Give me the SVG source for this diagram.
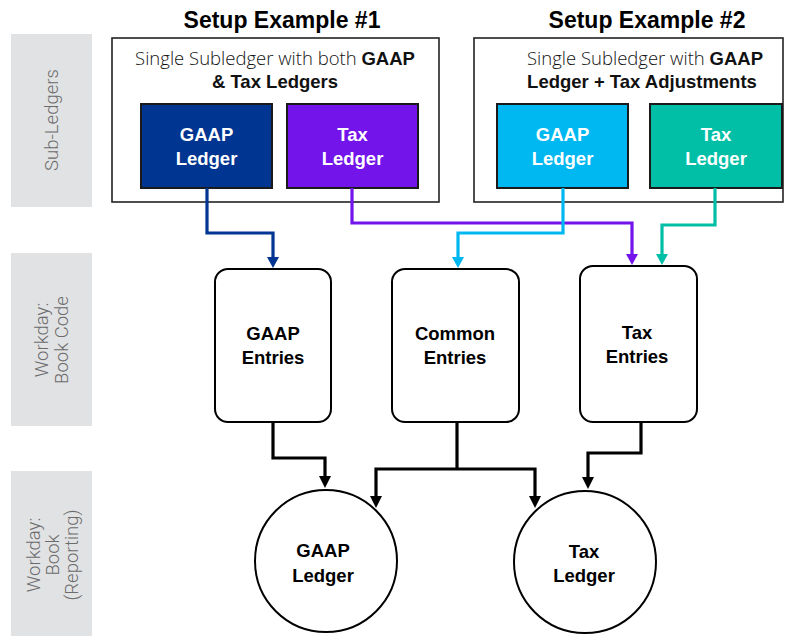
<svg xmlns="http://www.w3.org/2000/svg" width="789" height="636" viewBox="0 0 789 636">
<style>
.side{fill:#e1e2e4}
.sidet{font-family:Roboto,"Liberation Sans",sans-serif;font-weight:300;font-size:18.5px;fill:#6b6b6b;text-anchor:middle}
.title{font-family:"Liberation Sans",Arial,sans-serif;font-weight:bold;font-size:23px;fill:#000;text-anchor:middle}
.desc{font-family:"Liberation Sans",Arial,sans-serif;font-size:18.5px;fill:#111;text-anchor:middle}
.lt{font-family:"Open Sans",Roboto,sans-serif;font-weight:300}
.b{font-weight:bold}
.frame{fill:#fff;stroke:#222;stroke-width:1.6}
.led{stroke:#1a1a1a;stroke-width:2}
.wt{font-family:"Liberation Sans",Arial,sans-serif;font-weight:bold;font-size:18.5px;fill:#fff;text-anchor:middle}
.bt{font-family:"Liberation Sans",Arial,sans-serif;font-weight:bold;font-size:18.5px;fill:#000;text-anchor:middle}
.ent{fill:#fff;stroke:#000;stroke-width:2}
.con{fill:none;stroke-width:3.2;stroke-linejoin:miter}
</style>
<g id="lanes">
<rect class="side" x="11" y="34" width="81" height="173"/>
<text class="sidet" transform="translate(58,120) rotate(-90)">Sub-Ledgers</text>
<rect class="side" x="11" y="253" width="81" height="173"/>
<text class="sidet" transform="translate(48,340) rotate(-90)">Workday:</text>
<text class="sidet" transform="translate(68,340) rotate(-90)">Book Code</text>
<rect class="side" x="11" y="471" width="81" height="165"/>
<text class="sidet" transform="translate(40,555) rotate(-90)">Workday:</text>
<text class="sidet" transform="translate(59,555) rotate(-90)">Book</text>
<text class="sidet" transform="translate(78,555) rotate(-90)">(Reporting)</text>
</g>
<g id="setup1">
<text class="title" x="282" y="28">Setup Example #1</text>
<rect class="frame" x="112" y="38" width="327" height="164"/>
<text class="desc" x="275" y="65"><tspan class="lt">Single Subledger with both </tspan><tspan class="b">GAAP</tspan></text>
<text class="desc b" x="275" y="88">&amp; Tax Ledgers</text>
</g>
<g id="gaapLedger1">
<rect class="led" x="141" y="104" width="131" height="84" fill="#003591"/>
<text class="wt" x="206.5" y="141">GAAP</text>
<text class="wt" x="206.5" y="165">Ledger</text>
</g>
<g id="taxLedger1">
<rect class="led" x="287" y="104" width="131" height="84" fill="#7214ea"/>
<text class="wt" x="352.5" y="141">Tax</text>
<text class="wt" x="352.5" y="165">Ledger</text>
</g>
<g id="setup2">
<text class="title" x="647" y="28">Setup Example #2</text>
<rect class="frame" x="474" y="38" width="309" height="164"/>
<text class="desc" x="645" y="65"><tspan class="lt">Single Subledger with </tspan><tspan class="b">GAAP</tspan></text>
<text class="desc b" x="642" y="88">Ledger + Tax Adjustments</text>
</g>
<g id="gaapLedger2">
<rect class="led" x="497" y="104" width="131" height="84" fill="#00b8f1"/>
<text class="wt" x="562.5" y="141">GAAP</text>
<text class="wt" x="562.5" y="165">Ledger</text>
</g>
<g id="taxLedger2">
<rect class="led" x="650" y="104" width="132" height="84" fill="#00bfa6"/>
<text class="wt" x="716" y="141">Tax</text>
<text class="wt" x="716" y="165">Ledger</text>
</g>
<g id="gaapEntries">
<rect class="ent" x="215" y="269" width="116" height="153" rx="13"/>
<text class="bt" x="273" y="340">GAAP</text>
<text class="bt" x="273" y="364">Entries</text>
</g>
<g id="commonEntries">
<rect class="ent" x="392" y="269" width="127" height="153" rx="13"/>
<text class="bt" x="455" y="340">Common</text>
<text class="bt" x="455" y="364">Entries</text>
</g>
<g id="taxEntries">
<rect class="ent" x="580" y="266" width="117" height="156" rx="13"/>
<text class="bt" x="637" y="339">Tax</text>
<text class="bt" x="637" y="363">Entries</text>
</g>
<g id="gaapBook">
<circle cx="326" cy="561" r="71" fill="#fff" stroke="#000" stroke-width="2"/>
<text class="bt" x="323" y="557">GAAP</text>
<text class="bt" x="323" y="582">Ledger</text>
</g>
<g id="taxBook">
<circle cx="585" cy="562" r="71" fill="#fff" stroke="#000" stroke-width="2"/>
<text class="bt" x="584" y="558">Tax</text>
<text class="bt" x="584" y="582">Ledger</text>
</g>
<g id="connectors">
<polyline class="con" stroke="#003591" points="207,188 207,233 273,233 273,258"/>
<path d="M267,257 L279,257 L273,268 Z" fill="#003591"/>
<polyline class="con" stroke="#7214ea" points="352,188 352,223 632,223 632,255"/>
<path d="M626,254 L638,254 L632,265 Z" fill="#7214ea"/>
<polyline class="con" stroke="#00b8f1" points="563,188 563,233 458,233 458,258"/>
<path d="M452,257 L464,257 L458,268 Z" fill="#00b8f1"/>
<polyline class="con" stroke="#00bfa6" points="715,188 715,225 662,225 662,255"/>
<path d="M656,254 L668,254 L662,265 Z" fill="#00bfa6"/>
<polyline class="con" stroke="#000" points="273,422 273,458 325,458 325,477"/>
<path d="M319,476 L331,476 L325,488 Z" fill="#000"/>
<polyline class="con" stroke="#000" points="457,422 457,469"/>
<polyline class="con" stroke="#000" points="376,497 376,469 535,469 535,497"/>
<path d="M370,496 L382,496 L376,508 Z" fill="#000"/>
<path d="M529,496 L541,496 L535,508 Z" fill="#000"/>
<polyline class="con" stroke="#000" points="641,422 641,453 588,453 588,478"/>
<path d="M582,477 L594,477 L588,489 Z" fill="#000"/>
</g>
</svg>
